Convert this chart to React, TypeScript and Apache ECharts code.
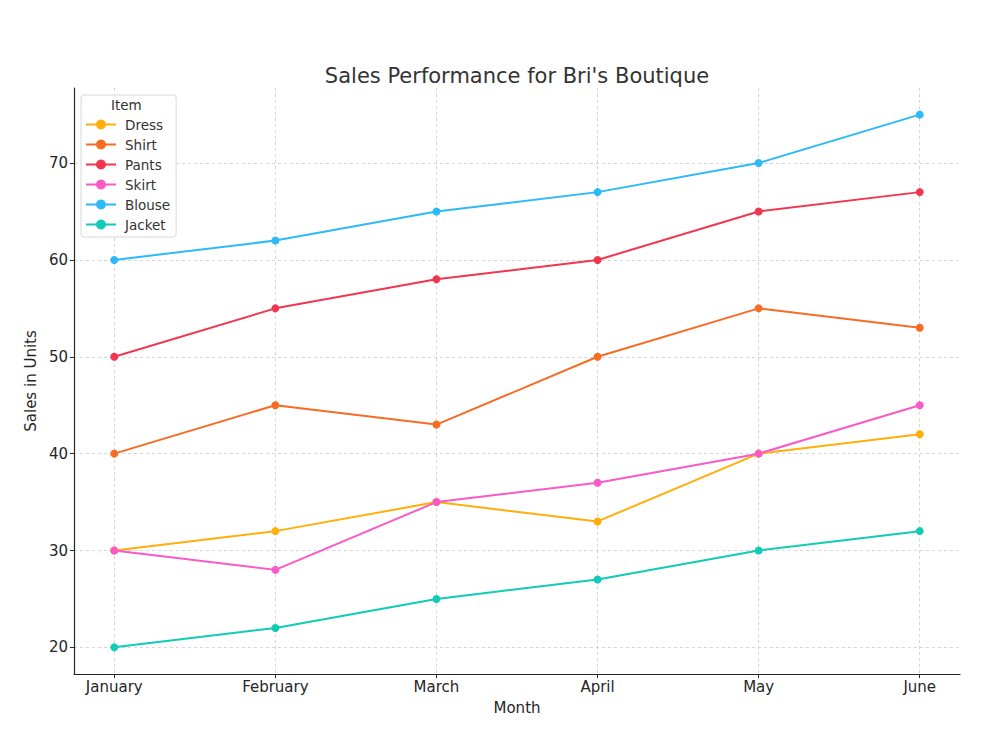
import React, { useEffect, useRef } from "react";
import * as echarts from "echarts";

const months = ["January", "February", "March", "April", "May", "June"];
const seriesNames = ["Dress", "Shirt", "Pants", "Skirt", "Blouse", "Jacket"];
const dress = [30, 32, 35, 33, 40, 42];
const shirt = [40, 45, 43, 50, 55, 53];
const pants = [50, 55, 58, 60, 65, 67];
const skirt = [30, 28, 35, 37, 40, 45];
const blouse = [60, 62, 65, 67, 70, 75];
const jacket = [20, 22, 25, 27, 30, 32];
const yTicks = [20, 30, 40, 50, 60, 70];
const colors = ["#FFAE0A", "#F76C22", "#F2364F", "#F95AC6", "#2CBAF8", "#10CBB6"];

const FONT = "DejaVu Sans";

export default function App() {
  const ref = useRef<HTMLDivElement>(null);
  useEffect(() => {
    if (!ref.current) return;
    const chart = echarts.init(ref.current, null, { renderer: "svg" });
    const values = [dress, shirt, pants, skirt, blouse, jacket];
    const xIdx = months.map((_, i) => i);
    const series = seriesNames.map((name, s) => ({
      name,
      type: "line",
      data: values[s].map((v, i) => [xIdx[i], v]),
      symbol: "circle",
      symbolSize: 8,
      showSymbol: true,
      lineStyle: { width: 2, color: colors[s] },
      itemStyle: { color: colors[s] },
      z: 3,
    }));
    chart.setOption({
      animation: false,
      backgroundColor: "#ffffff",
      textStyle: { fontFamily: FONT },
      title: {
        text: "Sales Performance for Bri's Boutique",
        left: 512,
        top: 60,
        textAlign: "center",
        textStyle: { fontFamily: FONT, fontSize: 21, fontWeight: "normal", color: "#333333" },
      },
      grid: { left: 74, right: 40, top: 88, bottom: 76, containLabel: false },
      legend: {
        orient: "vertical",
        left: 81,
        top: 95,
        data: seriesNames,
        padding: [22, 6, 5, 5],
        itemGap: 5,
        itemWidth: 30,
        itemHeight: 15,
        borderColor: "#d8d8d8",
        borderWidth: 1,
        borderRadius: 3,
        backgroundColor: "rgba(255,255,255,0.85)",
        textStyle: { fontFamily: FONT, fontSize: 13.5, color: "#333333", padding: [0, 0, 0, 4], height: 15, lineHeight: 15 },
        icon: "path://M0,7 L30,7 L30,9 L0,9 Z M15,3 A5,5 0 1 1 14.99,3 Z",
      },
      graphic: [
        {
          type: "text",
          left: 111,
          top: 98,
          style: { text: "Item", fontFamily: FONT, fontSize: 13.5, fill: "#333333" },
          z: 100,
        },
      ],
      xAxis: {
        type: "value",
        min: -0.25,
        max: 5.25,
        name: "Month",
        nameLocation: "middle",
        nameGap: 26,
        nameTextStyle: { fontFamily: FONT, fontSize: 15, color: "#262626" },
        axisLine: { show: true, onZero: false, lineStyle: { color: "#262626", width: 1.2 } },
        axisTick: { show: true, length: 4, inside: false, customValues: xIdx, lineStyle: { color: "#262626" } },
        axisLabel: {
          customValues: xIdx,
          formatter: (v: number) => months[Math.round(v)] ?? "",
          fontFamily: FONT,
          fontSize: 15,
          color: "#262626",
          margin: 5,
        },
        splitLine: { show: true, lineStyle: { color: "#cccccc", type: [3, 3], width: 0.8 } },
      },
      yAxis: {
        type: "value",
        min: 17.25,
        max: 77.75,
        name: "Sales in Units",
        nameLocation: "middle",
        nameGap: 31,
        nameRotate: 90,
        nameTextStyle: { fontFamily: FONT, fontSize: 15, color: "#262626" },
        axisLine: { show: true, onZero: false, lineStyle: { color: "#262626", width: 1.2 } },
        axisTick: { show: true, length: 4, inside: false, customValues: yTicks, lineStyle: { color: "#262626" } },
        axisLabel: {
          customValues: yTicks,
          fontFamily: FONT,
          fontSize: 15,
          color: "#262626",
          margin: 6,
        },
        splitLine: { show: true, lineStyle: { color: "#cccccc", type: [3, 3], width: 0.8 } },
      },
      series,
    });
    return () => chart.dispose();
  }, []);
  return (
    <div
      ref={ref}
      style={{ position: "fixed", left: 0, top: 0, width: 1000, height: 750, background: "#fff" }}
    />
  );
}
